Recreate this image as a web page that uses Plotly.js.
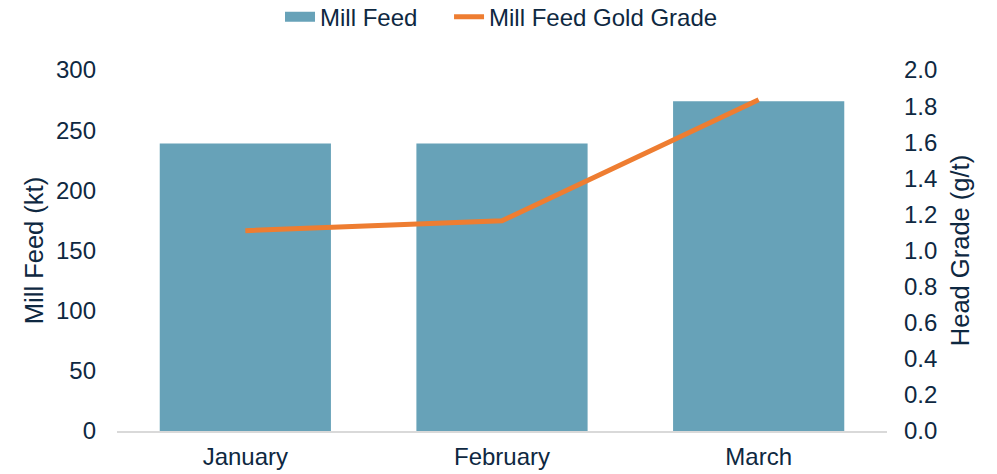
<!DOCTYPE html>
<html><head><meta charset="utf-8">
<script src="https://cdn.plot.ly/plotly-3.0.1.min.js"></script>
<style>html,body{margin:0;padding:0;background:#fff}#chart{width:997px;height:474px}</style>
</head><body><div id="chart"></div>
<script>
const categories = ["January", "February", "March"];
const millFeed = [239, 239, 274];
const goldGrade = [1.11, 1.165, 1.835];

const textColor = "#0E2841";
const barColor = "#67A2B8";
const lineColor = "#EE7D31";
const traces = [
  {type: "bar", name: "Mill Feed", x: categories, y: millFeed, marker: {color: barColor},
   yaxis: "y", showlegend: false, legendgroup: "feed"},
  // legend-only swatch for the bar series (draws no data)
  {type: "scatter", mode: "lines", name: "Mill Feed\u00a0\u00a0\u00a0\u00a0", x: [null], y: [null],
   line: {color: barColor, width: 12}, legendgroup: "feed", hoverinfo: "skip"},
  {type: "scatter", mode: "lines", name: "Mill Feed Gold Grade", x: categories, y: goldGrade,
   line: {color: lineColor, width: 5}, yaxis: "y2"}
];
const layout = {
  width: 997, height: 474,
  margin: {l: 117, r: 110, t: 70, b: 43},
  paper_bgcolor: "#fff", plot_bgcolor: "#fff",
  font: {family: "Liberation Sans, Arial, sans-serif", size: 24, color: textColor},
  bargap: 0.333,
  showlegend: true,
  legend: {orientation: "h", x: 0.2117, xanchor: "left", y: 0.964, yanchor: "middle", yref: "container",
           font: {size: 24, color: textColor}, traceorder: "normal", itemwidth: 30},
  xaxis: {showgrid: false, showline: true, linecolor: "#D9D9D9", linewidth: 1.5, ticks: "",
          ticklabelstandoff: 4, tickfont: {size: 24, color: textColor}},
  yaxis: {range: [0, 300], dtick: 50, showgrid: false, zeroline: false, showline: false,
          ticks: "", ticklabelstandoff: 20, tickfont: {size: 24, color: textColor},
          title: {text: "Mill Feed (kt)", font: {size: 25.5, color: textColor}, standoff: 5}},
  yaxis2: {range: [0, 2.0], dtick: 0.2, tickformat: ".1f", overlaying: "y", side: "right",
           showgrid: false, zeroline: false, showline: false, ticks: "",
           ticklabelstandoff: 16, tickfont: {size: 24, color: textColor},
           title: {text: "Head Grade (g/t)", font: {size: 25.5, color: textColor}, standoff: 14}}
};
Plotly.newPlot("chart", traces, layout, {displayModeBar: false, staticPlot: true});
</script></body></html>
